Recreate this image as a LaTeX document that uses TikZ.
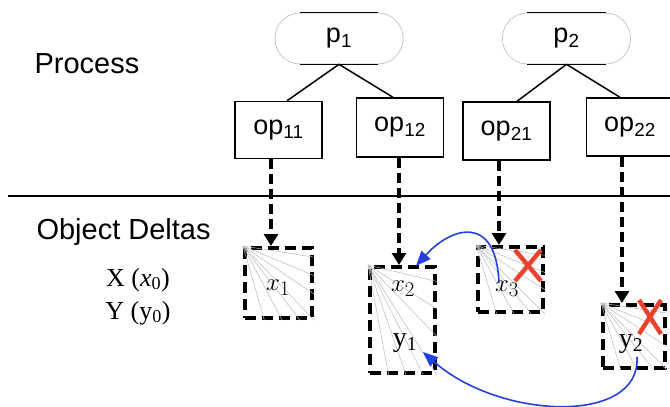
\documentclass[tikz,border=0pt]{standalone}
\usepackage{fontspec}
\setmainfont{Liberation Serif}
\setsansfont{Liberation Sans}
\usetikzlibrary{arrows.meta,calc}

\definecolor{linkblue}{RGB}{35,65,225}
\definecolor{killred}{RGB}{235,65,45}

\tikzset{
  proc/.style={draw=gray!55, line width=0.6pt, rounded corners=25pt,
    minimum width=128pt, minimum height=51pt, inner sep=0pt,
    font=\sffamily\fontsize{27}{29}\selectfont},
  opbox/.style={draw, line width=1.4pt, minimum width=87pt, minimum height=57pt,
    inner sep=0pt, font=\sffamily\fontsize{27}{29}\selectfont},
  deltabox/.style={draw, line width=4pt, dash pattern=on 11pt off 6pt, inner sep=0pt},
  ray/.style={gray!55, line width=0.5pt},
  dlabel/.style={font=\fontsize{28}{30}\selectfont, inner sep=0pt},
  flow/.style={line width=3.4pt, dash pattern=on 10pt off 5pt,
    -{Triangle[length=12pt,width=14pt]}},
  link/.style={linkblue, line width=1.6pt, -{Triangle[length=15pt,width=12pt]}},
  kill/.style={killred, line width=4.4pt},
}

\newcommand\fanrays[1]{%
  \foreach \f in {0.3,0.55,0.8}
    \draw[ray] (#1.north west) -- ($(#1.south west)!\f!(#1.south east)$);
  \foreach \f in {0.15,0.4,0.65,1}
    \draw[ray] (#1.north west) -- ($(#1.north east)!\f!(#1.south east)$);
}

\begin{document}
\begin{tikzpicture}[x=1pt,y=-1pt]
  \clip (0,0) rectangle (670,407);

  % left side labels
  \node[anchor=west, font=\sffamily\fontsize{29}{32}\selectfont] (proclbl) at (31,64) {Process};
  \node[anchor=west, font=\sffamily\fontsize{29}{32}\selectfont] (objlbl) at (33,232) {Object Deltas};
  \node[font=\fontsize{26}{28}\selectfont] (xvar) at (138,280) {X (\textit{x}\textsubscript{0})};
  \node[font=\fontsize{26}{28}\selectfont] (yvar) at (138,313) {Y (y\textsubscript{0})};

  \draw[line width=1.3pt] (8,196) -- (670,196);

  % processes
  \node[proc] (p1) at (339,38.5) {p\textsubscript{1}};
  \node[proc] (p2) at (566.5,38.5) {p\textsubscript{2}};
  \foreach \p in {p1,p2} {
    \draw[line width=1.3pt] ([xshift=25pt]\p.north west) -- ([xshift=-25pt]\p.north east);
    \draw[line width=1.3pt] ([xshift=25pt]\p.south west) -- ([xshift=-25pt]\p.south east);
  }

  % operations
  \node[opbox] (op11) at (278.5,130) {op\textsubscript{11}};
  \node[opbox, minimum height=59pt] (op12) at (400,127.5) {op\textsubscript{12}};
  \node[opbox, minimum height=58pt] (op21) at (506.5,131) {op\textsubscript{21}};
  \node[opbox, minimum height=58pt] (op22) at (630,127) {op\textsubscript{22}};

  \draw[line width=1.5pt] (p1.south) -- ([xshift=8.5pt]op11.north);
  \draw[line width=1.5pt] (p1.south) -- ([xshift=-7pt]op12.north);
  \draw[line width=1.5pt] (p2.south) -- ([xshift=10.5pt]op21.north);
  \draw[line width=1.5pt] (p2.south) -- ([xshift=-10pt]op22.north);

  % object deltas
  \node[deltabox, minimum width=67pt, minimum height=70pt] (x1) at (278.5,283) {};
  \node[deltabox, minimum width=65pt, minimum height=106pt] (x2) at (402.5,320) {};
  \node[deltabox, minimum width=65pt, minimum height=65pt] (x3) at (510.5,279.5) {};
  \node[deltabox, minimum width=62pt, minimum height=63pt] (y2) at (634,336.5) {};
  \foreach \b in {x1,x2,x3,y2} {\fanrays{\b}}

  \node[dlabel] (x1lbl) at (278,288) {$x_1$};
  \node[dlabel] (x2lbl) at (403,289) {$x_2$};
  \node[dlabel] (y1lbl) at (405,343) {y\textsubscript{1}};
  \node[dlabel] (x3lbl) at (507,289) {$x_3$};
  \node[dlabel] (y2lbl) at (631,344) {y\textsubscript{2}};

  % discarded deltas
  \draw[kill] (515,250) -- (541,281) (541,250) -- (515,281);
  \draw[kill] (639,300) -- (661,334) (661,300) -- (639,334);

  % operations write deltas
  \coordinate (in1) at ([xshift=-7.5pt]x1.north);
  \coordinate (in2) at ([xshift=-3.5pt]x2.north);
  \coordinate (in3) at ([xshift=-11.5pt]x3.north);
  \coordinate (in4) at ([xshift=-12pt]y2.north);
  \draw[flow] (op11.south -| in1) -- (in1);
  \draw[flow] (op12.south -| in2) -- (in2);
  \draw[flow] (op21.south -| in3) -- (in3);
  \draw[flow] (op22.south -| in4) -- (in4);

  % merged into surviving deltas
  \coordinate (fromx3) at (499,283);
  \coordinate (tox2) at (416,266);
  \coordinate (fromy2) at (637,357);
  \coordinate (toy1) at (423,352);
  \draw[link] (fromx3) .. controls (496,212) and (450,228) .. (tox2);
  \draw[link] (fromy2) .. controls (641,425) and (500,420) .. (toy1);
\end{tikzpicture}
\end{document}
